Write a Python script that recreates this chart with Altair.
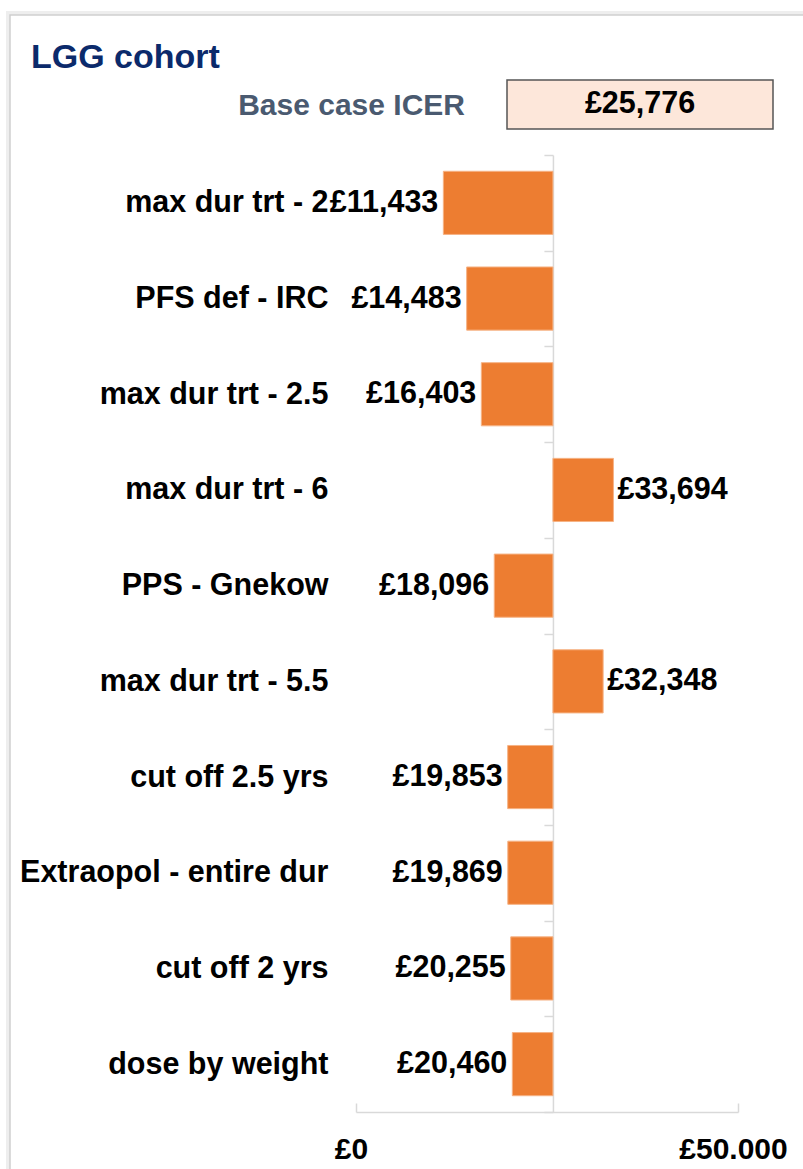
import altair as alt
import pandas as pd

# One-way sensitivity analysis results (ICER, £ per QALY) for the LGG cohort
scenarios = [
    "max dur trt - 2",
    "PFS def - IRC",
    "max dur trt - 2.5",
    "max dur trt - 6",
    "PPS - Gnekow",
    "max dur trt - 5.5",
    "cut off 2.5 yrs",
    "Extraopol - entire dur",
    "cut off 2 yrs",
    "dose by weight",
]
icers = [11433, 14483, 16403, 33694, 18096, 32348, 19853, 19869, 20255, 20460]
base_icer = 25776
x_ticks = [0, 50000]

FONT = "Liberation Sans"
W, H = 382, 957
PAD_L, PAD_T = 356, 155
XMAX = x_ticks[-1]

df = pd.DataFrame({
    "scenario": scenarios,
    "icer": icers,
    "base": [base_icer] * len(scenarios),
    "label": ["£{:,}".format(v) for v in icers],
})
df["side"] = ["right" if v > base_icer else "left" for v in icers]

# Pixel position of the base case within the plot; the category axis sits there
base_px = base_icer / XMAX * W
tick_len = 9
label_right = 328 - PAD_L  # right edge of category labels, relative to plot

x_scale = alt.Scale(domain=[0, XMAX], nice=False, zero=False)
y_scale = alt.Scale(domain=scenarios, paddingInner=0, paddingOuter=0)

# Category axis drawn along the base-case value
y_axis = alt.Axis(
    orient="left", offset=-base_px, tickBand="extent",
    domainColor="#d9d9d9", domainWidth=1.5,
    tickColor="#d9d9d9", tickWidth=1.5, tickSize=tick_len,
    labelPadding=base_px - tick_len - label_right,
    labelFont=FONT, labelFontSize=30.5, labelFontWeight="bold",
    labelColor="#000000", labelLimit=500, grid=False,
)


def y_enc():
    return alt.Y("scenario:N", scale=y_scale, sort=None, title=None, axis=y_axis)


bars = alt.Chart(df).mark_bar(
    color="#ED7D31", stroke="#F6B385", strokeWidth=1, height={"band": 0.66}
).encode(
    x=alt.X(
        "icer:Q", scale=x_scale, title=None,
        axis=alt.Axis(
            values=x_ticks, ticks=False, grid=False,
            domainColor="#d9d9d9", domainWidth=1.5,
            labelExpr="'£' + replace(format(datum.value, ','), ',', '.')",
            labelFont=FONT, labelFontSize=30, labelFontWeight="bold",
            labelColor="#000000", labelPadding=22, labelOffset=-5,
            labelFlush=False,
        ),
    ),
    x2="base:Q",
    y=y_enc(),
)

# Inward tick marks at both ends of the value axis
end_ticks = alt.Chart(df).mark_bar(opacity=0).encode(
    x=alt.X(
        "icer:Q", scale=x_scale, title=None,
        axis=alt.Axis(
            orient="top", offset=-H, values=x_ticks, labels=False,
            domain=False, grid=False, ticks=True, tickSize=tick_len,
            tickColor="#d9d9d9", tickWidth=1.5,
        ),
    ),
    x2="base:Q",
    y=y_enc(),
)

label_left = alt.Chart(df).transform_filter(alt.datum.side == "left").mark_text(
    align="right", baseline="middle", dx=-5,
    font=FONT, fontSize=30.5, fontWeight="bold", color="#000000",
).encode(
    x=alt.X("icer:Q", scale=x_scale, axis=None),
    y=y_enc(),
    text="label:N",
)

label_right_side = alt.Chart(df).transform_filter(alt.datum.side == "right").mark_text(
    align="left", baseline="middle", dx=4,
    font=FONT, fontSize=30.5, fontWeight="bold", color="#000000",
).encode(
    x=alt.X("icer:Q", scale=x_scale, axis=None),
    y=y_enc(),
    text="label:N",
)

one = pd.DataFrame({
    "title": ["LGG cohort"],
    "caption": ["Base case ICER"],
    "base_label": ["£{:,}".format(base_icer)],
})

# Card outline with a soft shadow on its left and top edges
shadow = alt.Chart(one).mark_rect(
    fillOpacity=0, stroke="#eeeeee", strokeWidth=4
).encode(
    x=alt.value(10 - PAD_L - 2), x2=alt.value(900),
    y=alt.value(15 - PAD_T - 2), y2=alt.value(1200),
)
card = alt.Chart(one).mark_rect(
    fillOpacity=0, stroke="#cfcfcf", strokeWidth=1.5
).encode(
    x=alt.value(10 - PAD_L), x2=alt.value(900),
    y=alt.value(15 - PAD_T), y2=alt.value(1200),
)

title = alt.Chart(one).mark_text(
    align="left", baseline="middle", font=FONT, fontSize=34,
    fontWeight="bold", color="#0B2A6B",
).encode(x=alt.value(31 - PAD_L), y=alt.value(58 - PAD_T), text="title:N")

caption = alt.Chart(one).mark_text(
    align="right", baseline="middle", font=FONT, fontSize=30,
    fontWeight="bold", color="#4A5A70",
).encode(x=alt.value(465 - PAD_L), y=alt.value(106 - PAD_T), text="caption:N")

box = alt.Chart(one).mark_rect(
    fill="#FDE7DA", stroke="#555555", strokeWidth=1.5
).encode(
    x=alt.value(507 - PAD_L), x2=alt.value(773 - PAD_L),
    y=alt.value(80 - PAD_T), y2=alt.value(129 - PAD_T),
)

box_text = alt.Chart(one).mark_text(
    align="center", baseline="middle", font=FONT, fontSize=30.5,
    fontWeight="bold", color="#000000",
).encode(x=alt.value(640 - PAD_L), y=alt.value(104 - PAD_T), text="base_label:N")

chart = alt.layer(
    shadow, card, bars, end_ticks, label_left, label_right_side,
    title, caption, box, box_text,
).resolve_axis(x="independent").properties(
    width=W, height=H,
    autosize=alt.AutoSizeParams(type="none"),
    padding={"left": PAD_L, "top": PAD_T, "right": 803 - PAD_L - W, "bottom": 1169 - PAD_T - H},
    background="#ffffff",
).configure_view(stroke=None)

chart.save("out.html", embed_options={"renderer": "svg", "actions": False})
